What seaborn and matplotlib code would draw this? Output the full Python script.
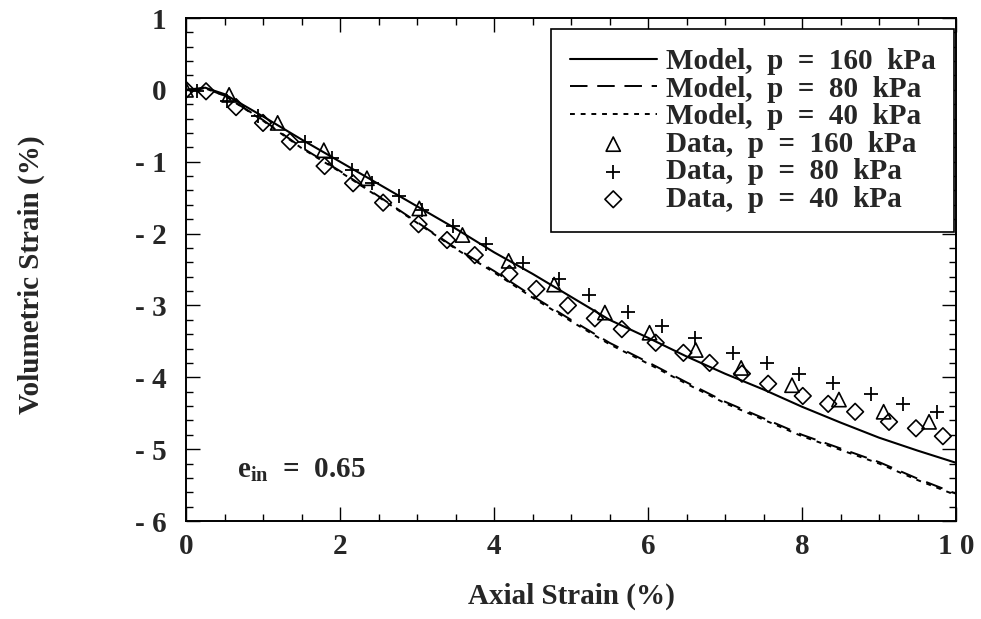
import numpy as np
import pandas as pd
import matplotlib
matplotlib.use("Agg")
import matplotlib.pyplot as plt
import seaborn as sns

# ---------------- data ----------------
model_x = [0.0, 0.25, 0.5, 1.0, 1.5, 2.0, 2.5, 3.0, 3.5, 4.0, 4.5, 5.0,
           5.5, 6.0, 6.5, 7.0, 7.5, 8.0, 8.5, 9.0, 9.5, 10.0]
model_160 = [0.0, 0.03, -0.06, -0.37, -0.69, -1.00, -1.31, -1.62, -1.93, -2.26, -2.56, -2.88,
             -3.20, -3.45, -3.71, -3.95, -4.17, -4.41, -4.63, -4.84, -5.02, -5.19]
model_80 = [0.0, 0.02, -0.08, -0.42, -0.80, -1.13, -1.48, -1.84, -2.20, -2.52, -2.87, -3.20,
            -3.52, -3.79, -4.07, -4.34, -4.57, -4.80, -4.99, -5.18, -5.41, -5.62]
model_40 = [0.0, 0.02, -0.08, -0.43, -0.81, -1.14, -1.49, -1.85, -2.21, -2.54, -2.89, -3.22,
            -3.54, -3.81, -4.09, -4.36, -4.59, -4.82, -5.01, -5.20, -5.43, -5.64]

data160_x = [0.0, 0.56, 1.19, 1.79, 2.35, 3.03, 3.59, 4.19, 4.78, 5.44, 6.02, 6.62,
             7.21, 7.87, 8.48, 9.06, 9.65]
data160_y = [0.0, -0.07, -0.46, -0.84, -1.23, -1.65, -2.02, -2.38, -2.71, -3.10, -3.38, -3.62,
             -3.87, -4.11, -4.31, -4.48, -4.62]

data80_x = [0.0, 0.14, 0.53, 0.94, 1.55, 1.89, 2.15, 2.42, 2.76, 3.07, 3.47, 3.90, 4.38,
            4.84, 5.24, 5.74, 6.18, 6.61, 7.10, 7.54, 7.96, 8.40, 8.89, 9.31, 9.75]
data80_y = [0.0, -0.02, -0.15, -0.37, -0.73, -0.95, -1.11, -1.30, -1.48, -1.67, -1.89, -2.14, -2.41,
            -2.63, -2.85, -3.09, -3.28, -3.46, -3.66, -3.80, -3.95, -4.08, -4.23, -4.37, -4.49]

data40_x = [0.0, 0.26, 0.65, 1.00, 1.35, 1.80, 2.17, 2.56, 3.02, 3.39, 3.75, 4.20, 4.55,
            4.96, 5.31, 5.66, 6.10, 6.46, 6.80, 7.22, 7.56, 8.01, 8.34, 8.69, 9.13, 9.48, 9.83]
data40_y = [0.0, -0.02, -0.24, -0.46, -0.72, -1.06, -1.30, -1.57, -1.87, -2.09, -2.30, -2.56, -2.77,
            -3.00, -3.18, -3.33, -3.52, -3.66, -3.80, -3.95, -4.09, -4.26, -4.37, -4.48, -4.62, -4.71, -4.82]

model_labels = ["Model,  p  =  160  kPa", "Model,  p  =  80  kPa", "Model,  p  =  40  kPa"]
data_labels = ["Data,  p  =  160  kPa", "Data,  p  =  80  kPa", "Data,  p  =  40  kPa"]

x_ticks = [0, 2, 4, 6, 8, 10]
x_ticklabels = ["0", "2", "4", "6", "8", "1 0"]
y_ticks = [1, 0, -1, -2, -3, -4, -5, -6]
y_ticklabels = ["1", "0", "- 1", "- 2", "- 3", "- 4", "- 5", "- 6"]

x_label = "Axial Strain (%)"
y_label = "Volumetric Strain (%)"
annot = r"$\mathbf{e}_{\mathbf{in}}$  =  0.65"

# ---------------- style ----------------
sns.set_theme(style="white")
plt.rcParams["font.family"] = ["Liberation Serif", "DejaVu Serif"]
plt.rcParams["font.weight"] = "bold"
plt.rcParams["mathtext.fontset"] = "custom"
plt.rcParams["mathtext.rm"] = "Liberation Serif:bold"
plt.rcParams["mathtext.bf"] = "Liberation Serif:bold"

FS = 21

fig = plt.figure(figsize=(9.81, 6.19), dpi=100)
ax = fig.add_axes([186 / 981, 1 - 521 / 619, 770 / 981, 503 / 619])

models = pd.DataFrame({"x": model_x, "m160": model_160, "m80": model_80, "m40": model_40})

sns.lineplot(data=models, x="x", y="m160", ax=ax, color="black", lw=1.5,
             linestyle="-", label=model_labels[0])
sns.lineplot(data=models, x="x", y="m80", ax=ax, color="black", lw=1.4,
             dashes=(9, 5), label=model_labels[1])
sns.lineplot(data=models, x="x", y="m40", ax=ax, color="black", lw=1.4,
             linestyle=(0, (2.5, 3)), label=model_labels[2])

sns.scatterplot(x=data160_x, y=data160_y, ax=ax, marker="^", s=105,
                facecolors="none", edgecolor="black", linewidth=1.2, label=data_labels[0], zorder=3)
sns.scatterplot(x=data80_x, y=data80_y, ax=ax, marker="+", s=100,
                color="black", linewidth=1.3, label=data_labels[1], zorder=3)
sns.scatterplot(x=data40_x, y=data40_y, ax=ax, marker="D", s=72,
                facecolors="none", edgecolor="black", linewidth=1.2, label=data_labels[2], zorder=3)

ax.set_xlim(0, 10)
ax.set_ylim(-6, 1)
ax.set_xticks(x_ticks)
ax.set_xticklabels(x_ticklabels, fontsize=FS, fontweight="bold")
ax.set_yticks(y_ticks)
ax.set_yticklabels(y_ticklabels, fontsize=FS, fontweight="bold")
ax.set_xticks(np.arange(0, 10.01, 0.5), minor=True)
ax.set_yticks(np.arange(-6, 1.01, 0.2), minor=True)
ax.tick_params(which="both", direction="in", top=True, right=True, bottom=True, left=True,
               color="black", width=1.0)
ax.tick_params(which="major", length=10)
ax.tick_params(which="minor", length=5)
ax.tick_params(axis="x", which="major", pad=9)
ax.tick_params(axis="y", which="major", pad=14)

for sp in ax.spines.values():
    sp.set_color("black")
    sp.set_linewidth(1.4)

ax.set_xlabel(x_label, fontsize=FS, fontweight="bold", labelpad=16)
ax.set_ylabel(y_label, fontsize=FS, fontweight="bold")
ax.yaxis.set_label_coords(-0.183, 0.49)

ax.text(0.66, -5.39, annot, fontsize=FS, fontweight="bold", va="baseline", ha="left")

leg = ax.legend(loc="upper right", bbox_to_anchor=(0.998, 0.978), borderaxespad=0,
                fontsize=FS, frameon=True, fancybox=False, shadow=False,
                edgecolor="black", framealpha=1, handlelength=3.0, handletextpad=0.3,
                labelspacing=0.02, borderpad=0.65, scatterpoints=1)
leg.get_frame().set_linewidth(1.2)
for t in leg.get_texts():
    t.set_fontweight("bold")

fig.savefig("out.png", dpi=100, facecolor="white")
